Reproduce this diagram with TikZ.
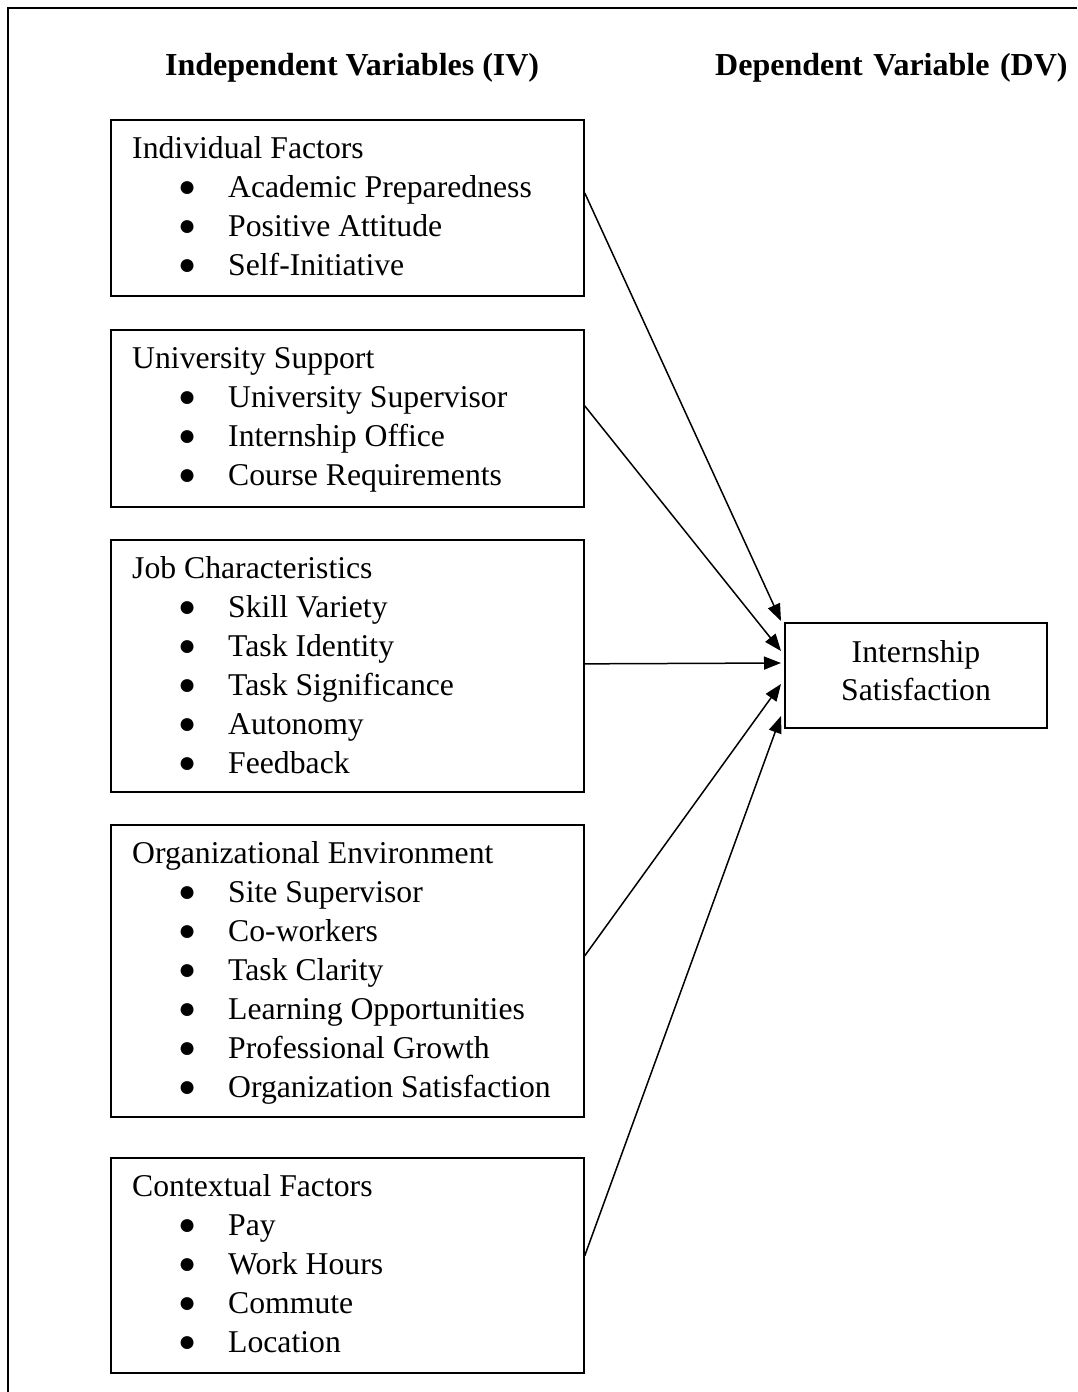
\documentclass[tikz,border=0pt]{standalone}
\usepackage{fontspec}
\usepackage{graphicx}
\setmainfont{Liberation Serif}
\usetikzlibrary{arrows.meta}
\newcommand{\bul}{\makebox[0pt][c]{\raisebox{0.8pt}{\fontsize{30pt}{30pt}\selectfont ●}}}
\newcommand{\itm}[1]{\\\hspace*{55pt}\bul\hspace*{41pt}#1}
\begin{document}
\begin{tikzpicture}[x=1pt,y=-1pt,
  ivbox/.style={draw, line width=1.7pt, anchor=north west, minimum width=473pt, inner sep=0pt},
  ivtext/.style={anchor=base west, inner sep=0pt, font=\fontsize{31.7pt}{39pt}\selectfont},
  hdr/.style={anchor=base west, inner sep=0pt, font=\bfseries\fontsize{32pt}{38pt}\selectfont},
  dvbox/.style={draw, line width=2pt, minimum width=262pt, minimum height=105pt, inner sep=0pt},
  link/.style={line width=1.5pt, -{Triangle[length=17pt,width=13pt]}}]
\useasboundingbox (0,0) rectangle (1077,1392);
\draw[line width=2pt] (1077,8) -- (8,8) -- (8,1392);

\node[hdr] (hiv) at (165,75) {Independent Variables (IV)};
\node[hdr] (hdv) at (715,75) {Dependent\hspace{0.33em}Variable\hspace{0.33em}(DV)};

\node[ivbox, minimum height=176pt] (b1) at (110,119) {};
\node[ivtext] (t1) at ([xshift=22pt,yshift=-39pt]b1.north west)
  {\parbox[t]{450pt}{Individual Factors\itm{Academic Preparedness}\itm{Positive Attitude}\itm{Self-Initiative}}};

\node[ivbox, minimum height=177pt] (b2) at (110,329) {};
\node[ivtext] (t2) at ([xshift=22pt,yshift=-39pt]b2.north west)
  {\parbox[t]{450pt}{University Support\itm{University Supervisor}\itm{Internship Office}\itm{Course Requirements}}};

\node[ivbox, minimum height=252pt] (b3) at (110,539) {};
\node[ivtext] (t3) at ([xshift=22pt,yshift=-39pt]b3.north west)
  {\parbox[t]{450pt}{Job Characteristics\itm{Skill Variety}\itm{Task Identity}\itm{Task Significance}\itm{Autonomy}\itm{Feedback}}};

\node[ivbox, minimum height=292pt] (b4) at (110,824) {};
\node[ivtext] (t4) at ([xshift=22pt,yshift=-39pt]b4.north west)
  {\parbox[t]{450pt}{Organizational Environment\itm{Site Supervisor}\itm{Co-workers}\itm{Task Clarity}\itm{Learning Opportunities}\itm{Professional Growth}\itm{Organization Satisfaction}}};

\node[ivbox, minimum height=215pt] (b5) at (110,1157) {};
\node[ivtext] (t5) at ([xshift=22pt,yshift=-39pt]b5.north west)
  {\parbox[t]{450pt}{Contextual Factors\itm{Pay}\itm{Work Hours}\itm{Commute}\itm{Location}}};

\node[dvbox] (dv) at (916,675.5) {};
\node[anchor=base, inner sep=0pt, font=\fontsize{31.7pt}{38pt}\selectfont] (dvt) at (916,662)
  {\parbox[t]{262pt}{\centering Internship\\Satisfaction}};

\coordinate (e1) at (781,621);
\coordinate (e2) at (781,651);
\coordinate (e3) at (781,663);
\coordinate (e4) at (781,684);
\coordinate (e5) at (781,716);

\draw[link] ([yshift=15pt]b1.east) -- (e1);
\draw[link] ([yshift=12.5pt]b2.east) -- (e2);
\draw[link] ([yshift=2pt]b3.east) -- (e3);
\draw[link] ([yshift=15pt]b4.east) -- (e4);
\draw[link] ([yshift=9.5pt]b5.east) -- (e5);
\end{tikzpicture}
\end{document}
